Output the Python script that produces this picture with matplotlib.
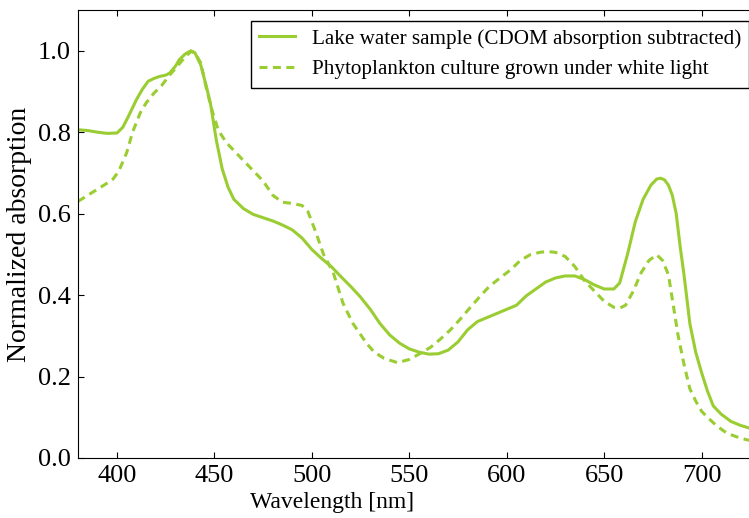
import numpy as np
import matplotlib.pyplot as plt

# Lake water sample (CDOM absorption subtracted)
lake_wl = [380, 385, 390, 395, 400, 403, 406, 410, 413, 416, 419, 422, 425, 427, 430,
           432, 435, 438, 440, 443, 446, 448, 451, 454, 457, 460, 465, 470, 475, 480,
           485, 490, 495, 500, 505, 510, 515, 520, 525, 530, 535, 540, 545, 550, 555,
           560, 565, 570, 575, 580, 585, 590, 595, 600, 605, 610, 615, 620, 625, 630,
           635, 640, 645, 650, 655, 658, 662, 666, 670, 674, 677, 679, 681, 683, 685,
           687, 689, 691, 694, 697, 700, 703, 706, 710, 715, 720, 725]
lake_abs = [0.806, 0.804, 0.800, 0.797, 0.798, 0.812, 0.840, 0.880, 0.905, 0.925, 0.932,
            0.937, 0.940, 0.945, 0.962, 0.978, 0.992, 1.000, 0.995, 0.965, 0.910, 0.870,
            0.780, 0.710, 0.665, 0.635, 0.612, 0.598, 0.590, 0.582, 0.572, 0.560, 0.540,
            0.512, 0.490, 0.470, 0.445, 0.421, 0.395, 0.365, 0.330, 0.302, 0.282, 0.268,
            0.260, 0.255, 0.256, 0.265, 0.285, 0.315, 0.335, 0.345, 0.355, 0.365, 0.375,
            0.398, 0.415, 0.432, 0.442, 0.447, 0.447, 0.438, 0.425, 0.415, 0.415, 0.430,
            0.500, 0.580, 0.635, 0.670, 0.685, 0.687, 0.683, 0.670, 0.645, 0.600, 0.520,
            0.450, 0.330, 0.260, 0.210, 0.165, 0.128, 0.108, 0.090, 0.080, 0.073]

# Phytoplankton culture grown under white light
phyto_wl = [380, 385, 390, 395, 398, 401, 405, 408, 412, 415, 419, 423, 427, 431, 435,
            438, 440, 443, 446, 449, 452, 456, 460, 465, 470, 475, 480, 485, 490, 495,
            498, 502, 506, 511, 516, 521, 528, 532, 537, 544, 550, 555, 561, 566, 571,
            576, 581, 586, 591, 596, 602, 607, 612, 617, 621, 625, 630, 635, 640, 645,
            650, 655, 658, 661, 665, 669, 673, 677, 680, 683, 686, 688, 691, 694, 697,
            700, 703, 708, 713, 718, 723, 725]
phyto_abs = [0.630, 0.645, 0.660, 0.675, 0.685, 0.705, 0.750, 0.800, 0.848, 0.872, 0.896,
             0.915, 0.940, 0.962, 0.985, 0.998, 0.995, 0.970, 0.905, 0.850, 0.805, 0.775,
             0.755, 0.730, 0.705, 0.680, 0.645, 0.628, 0.625, 0.620, 0.605, 0.555, 0.500,
             0.455, 0.380, 0.331, 0.282, 0.260, 0.245, 0.234, 0.242, 0.255, 0.272, 0.292,
             0.314, 0.340, 0.368, 0.395, 0.421, 0.440, 0.462, 0.485, 0.499, 0.505, 0.507,
             0.505, 0.495, 0.470, 0.435, 0.410, 0.385, 0.370, 0.368, 0.375, 0.410, 0.455,
             0.485, 0.499, 0.485, 0.450, 0.360, 0.300, 0.230, 0.170, 0.140, 0.115, 0.100,
             0.078, 0.061, 0.052, 0.045, 0.043]

plt.rcParams['font.family'] = ['Liberation Serif', 'DejaVu Serif']

fig = plt.figure(figsize=(7.49, 5.18), dpi=100)
# axes runs slightly past the right edge of the figure, as in the cropped original
ax = fig.add_axes([78/749, 60/518, (760 - 78)/749, 448/518])

color = "yellowgreen"
ax.plot(lake_wl, lake_abs, color=color, lw=2.2, label="Lake water sample (CDOM absorption subtracted)")
ax.plot(phyto_wl, phyto_abs, color=color, lw=2.2, dashes=(2.6, 1.8),
        label="Phytoplankton culture grown under white light")

ax.set_xlim(380, 730)
ax.set_ylim(0, 1.1)
ax.set_xticks([400, 450, 500, 550, 600, 650, 700])
ax.set_yticks([0.0, 0.2, 0.4, 0.6, 0.8, 1.0])
ax.set_yticklabels(["0.0", "0.2", "0.4", "0.6", "0.8", "1.0"])
ax.tick_params(direction="in", top=True, right=True, length=4, labelsize=19, pad=5)

ax.set_xlabel("Wavelength [nm]", fontsize=17)
ax.xaxis.set_label_coords((332 - 78)/(760 - 78), -0.075)
ax.set_ylabel("Normalized absorption", fontsize=20, labelpad=4)

leg = ax.legend(loc="upper right", fontsize=15.2, fancybox=False, edgecolor="black",
                framealpha=1, handlelength=1.7, borderaxespad=0.5)
leg.get_frame().set_linewidth(1)

plt.savefig("out.png")
plt.close()
